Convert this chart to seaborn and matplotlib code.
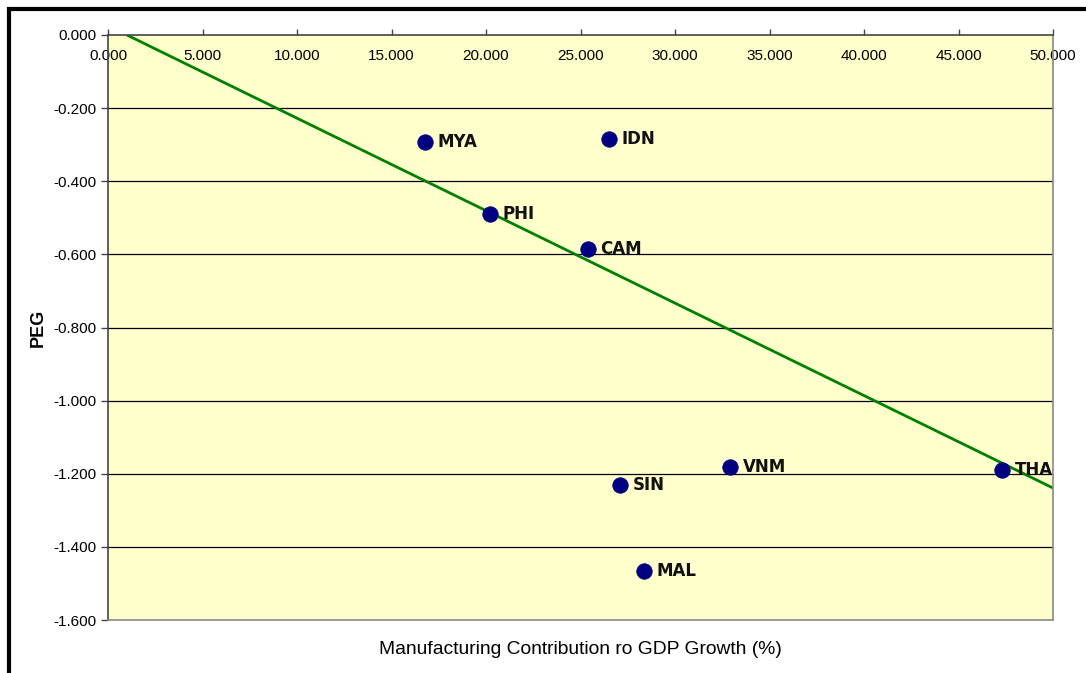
import matplotlib
matplotlib.use("Agg")
import matplotlib.pyplot as plt
import seaborn as sns
import pandas as pd
from matplotlib.patches import Rectangle

# ---- data ----
countries = ["MYA", "IDN", "PHI", "CAM", "VNM", "SIN", "MAL", "THA"]
manufacturing = [16.77, 26.51, 20.21, 25.40, 32.91, 27.09, 28.36, 47.30]
peg = [-0.293, -0.284, -0.490, -0.585, -1.182, -1.231, -1.466, -1.190]
trend_x = [1.0, 50.0]
trend_y = [0.0, -1.239]
x_ticks = [0, 5, 10, 15, 20, 25, 30, 35, 40, 45, 50]
y_ticks = [0.0, -0.2, -0.4, -0.6, -0.8, -1.0, -1.2, -1.4, -1.6]

df = pd.DataFrame({"country": countries, "x": manufacturing, "y": peg})
tdf = pd.DataFrame({"x": trend_x, "y": trend_y})

sns.set_theme(style="white")
plt.rcParams["font.family"] = ["Liberation Sans", "DejaVu Sans"]

fig = plt.figure(figsize=(10.86, 6.73), dpi=100)
ax = fig.add_axes([108/1086, 1-620/673, (1053-108)/1086, (620-35)/673])
ax.set_facecolor("#FFFFCC")

for yv in y_ticks[1:-1]:
    ax.axhline(yv, color="black", lw=0.9, zorder=1)

sns.lineplot(data=tdf, x="x", y="y", ax=ax, color="#008000", lw=2, zorder=2)
sns.scatterplot(data=df, x="x", y="y", ax=ax, color="#000080", s=125,
                edgecolor="#000080", linewidth=0.5, zorder=3)

for c, xv, yv in zip(countries, manufacturing, peg):
    ax.annotate(c, (xv, yv), xytext=(9, 0), textcoords="offset points",
                ha="left", va="center", fontsize=12, fontweight="bold",
                family=["DejaVu Sans"], color="#111111", zorder=4)

ax.set_xlim(0, 50)
ax.set_ylim(-1.6, 0)
ax.set_xticks(x_ticks)
ax.set_xticklabels([f"{v:.3f}" for v in x_ticks])
ax.set_yticks(y_ticks)
ax.set_yticklabels([f"{v:.3f}" for v in y_ticks])

ax.xaxis.tick_top()
ax.tick_params(axis="x", top=True, bottom=False, labeltop=True, labelbottom=False,
               direction="out", length=4, width=1, color="#444444",
               pad=-24, labelsize=11, labelcolor="black")
ax.tick_params(axis="y", left=True, direction="out", length=5, width=1,
               color="#444444", pad=3, labelsize=11, labelcolor="black")

ax.xaxis.set_label_position("bottom")
ax.set_xlabel("Manufacturing Contribution ro GDP Growth (%)", fontsize=13.9,
              labelpad=15, color="black")
ax.set_ylabel("PEG", fontsize=13, fontweight="bold", labelpad=5, color="black")

for side in ["left", "top"]:
    ax.spines[side].set_color("#444444")
    ax.spines[side].set_linewidth(1.2)
for side in ["right", "bottom"]:
    ax.spines[side].set_color("#888888")
    ax.spines[side].set_linewidth(1.2)

# outer chart frame (left and top visible)
fig.patches.append(Rectangle((9/1086, -0.05), 1.2, 1 - 9/673 + 0.05,
                             transform=fig.transFigure, fill=False,
                             edgecolor="black", lw=3, zorder=10))

fig.savefig("out.png", dpi=100, facecolor="white")
